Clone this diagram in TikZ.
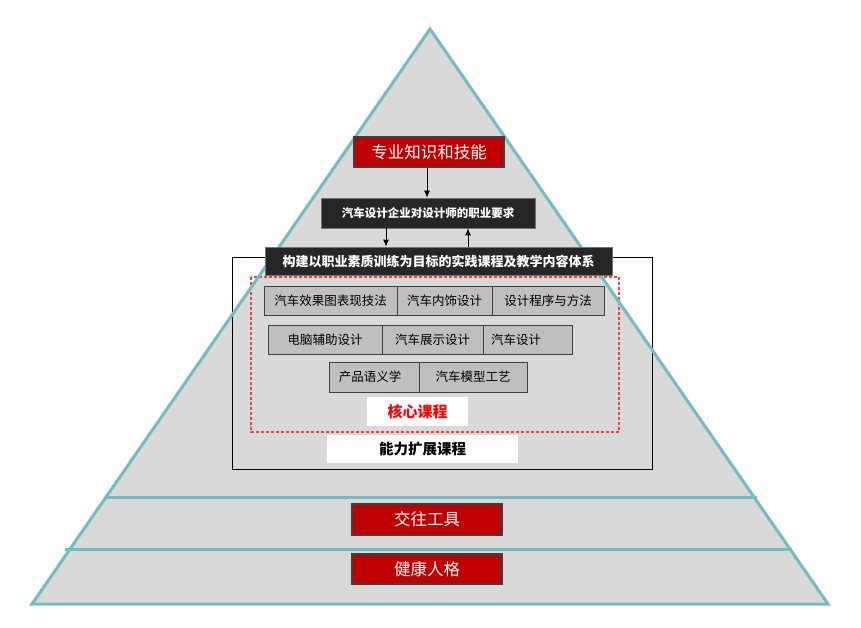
\documentclass[tikz,border=0pt]{standalone}
\usepackage{fontspec}
\setmainfont{Noto Sans CJK SC}
\usetikzlibrary{arrows.meta,calc}
\definecolor{pyrfill}{HTML}{D9D9D9}
\definecolor{pyrline}{HTML}{6FBEC4}
\definecolor{boxgray}{HTML}{BFBFBF}
\definecolor{deepred}{HTML}{C00000}
\definecolor{darkfill}{HTML}{262626}
\definecolor{rimgray}{HTML}{404040}
\definecolor{dashred}{HTML}{FF3B3B}
\begin{document}
\begin{tikzpicture}[x=1pt,y=-1pt,
  graybox/.style={draw=rimgray, fill=boxgray, line width=1pt, inner sep=0pt, text=black, font=\fontsize{12.5}{15}\selectfont},
  redbox/.style={draw=rimgray, fill=deepred, line width=1.3pt, inner sep=0pt, text=white, minimum width=150pt, font=\fontsize{16.5}{18}\selectfont},
  darkbox/.style={draw=black!55, fill=darkfill, line width=0.8pt, inner sep=0pt, text=white},
  whitebox/.style={fill=white, inner sep=0pt},
  arr/.style={-{Latex[length=7pt,width=6pt]}, line width=0.8pt, black},
  tealline/.style={draw=pyrline, line width=3pt}
]
\useasboundingbox (0,0) rectangle (861,628);
\fill[white] (0,0) rectangle (861,628);
% pyramid fill
\fill[pyrfill] (430,29) -- (828,604) -- (32,604) -- cycle;
% frames
\draw[black, line width=0.8pt] (232,257) rectangle (652,469);
\draw[dashred, line width=1.2pt, dash pattern=on 3pt off 2pt] (251,277) rectangle (619,432);
% pyramid outline and layers
\draw[tealline] (430,29) -- (828,604) -- (32,604) -- cycle;
\draw[tealline] (105,497) -- (757,497);
\draw[tealline] (65,549) -- (792,549);
% top boxes
\node[redbox, minimum height=30pt] (skill) at (429,152) {专业知识和技能};
\node[darkbox, minimum width=214pt, minimum height=30pt, font=\bfseries\fontsize{11.5}{14}\selectfont] (req) at (428,213) {汽车设计企业对设计师的职业要求};
\node[darkbox, minimum width=347pt, minimum height=28pt, font=\bfseries\fontsize{13}{15}\selectfont] (sys) at (438.5,261) {构建以职业素质训练为目标的实践课程及教学内容体系};
\draw[arr] ([xshift=-2pt]skill.south) -- ([xshift=-2pt]skill.south |- req.north);
\draw[arr] ([xshift=-42pt]req.south) -- ([xshift=-42pt]req.south |- sys.north);
\draw[arr] ([xshift=40pt]req.south |- sys.north) -- ([xshift=40pt]req.south);
% course boxes row 1
\node[graybox, minimum width=133pt, minimum height=29pt] (c11) at (330.5,300.5) {汽车效果图表现技法};
\node[graybox, minimum width=95pt, minimum height=29pt] (c12) at (444.5,300.5) {汽车内饰设计};
\node[graybox, minimum width=112pt, minimum height=29pt] (c13) at (548,300.5) {设计程序与方法};
% row 2
\node[graybox, minimum width=114pt, minimum height=29pt] (c21) at (325,339.5) {电脑辅助设计};
\node[graybox, minimum width=101pt, minimum height=29pt] (c22) at (432.5,339.5) {汽车展示设计};
\node[graybox, minimum width=89pt, minimum height=29pt] (c23) at (527.5,339.5) {汽车设计\kern23pt\relax};
% row 3
\node[graybox, minimum width=90pt, minimum height=30pt] (c31) at (374,377) {产品语义学\kern8pt\relax};
\node[graybox, minimum width=108pt, minimum height=30pt] (c32) at (473,377) {汽车模型工艺};
% labels
\node[whitebox, minimum width=101pt, minimum height=29pt, text=red, font=\bfseries\fontsize{15}{17}\selectfont] (core) at (417.5,411.5) {核心课程};
\node[whitebox, minimum width=191pt, minimum height=28pt, text=black, font=\bfseries\fontsize{14.5}{17}\selectfont] (ext) at (422.5,449) {能力扩展课程};
% lower layers
\node[redbox, minimum height=31pt] (tool) at (427,519.5) {交往工具};
\node[redbox, minimum height=30pt] (pers) at (427,569) {健康人格};
\end{tikzpicture}
\end{document}
